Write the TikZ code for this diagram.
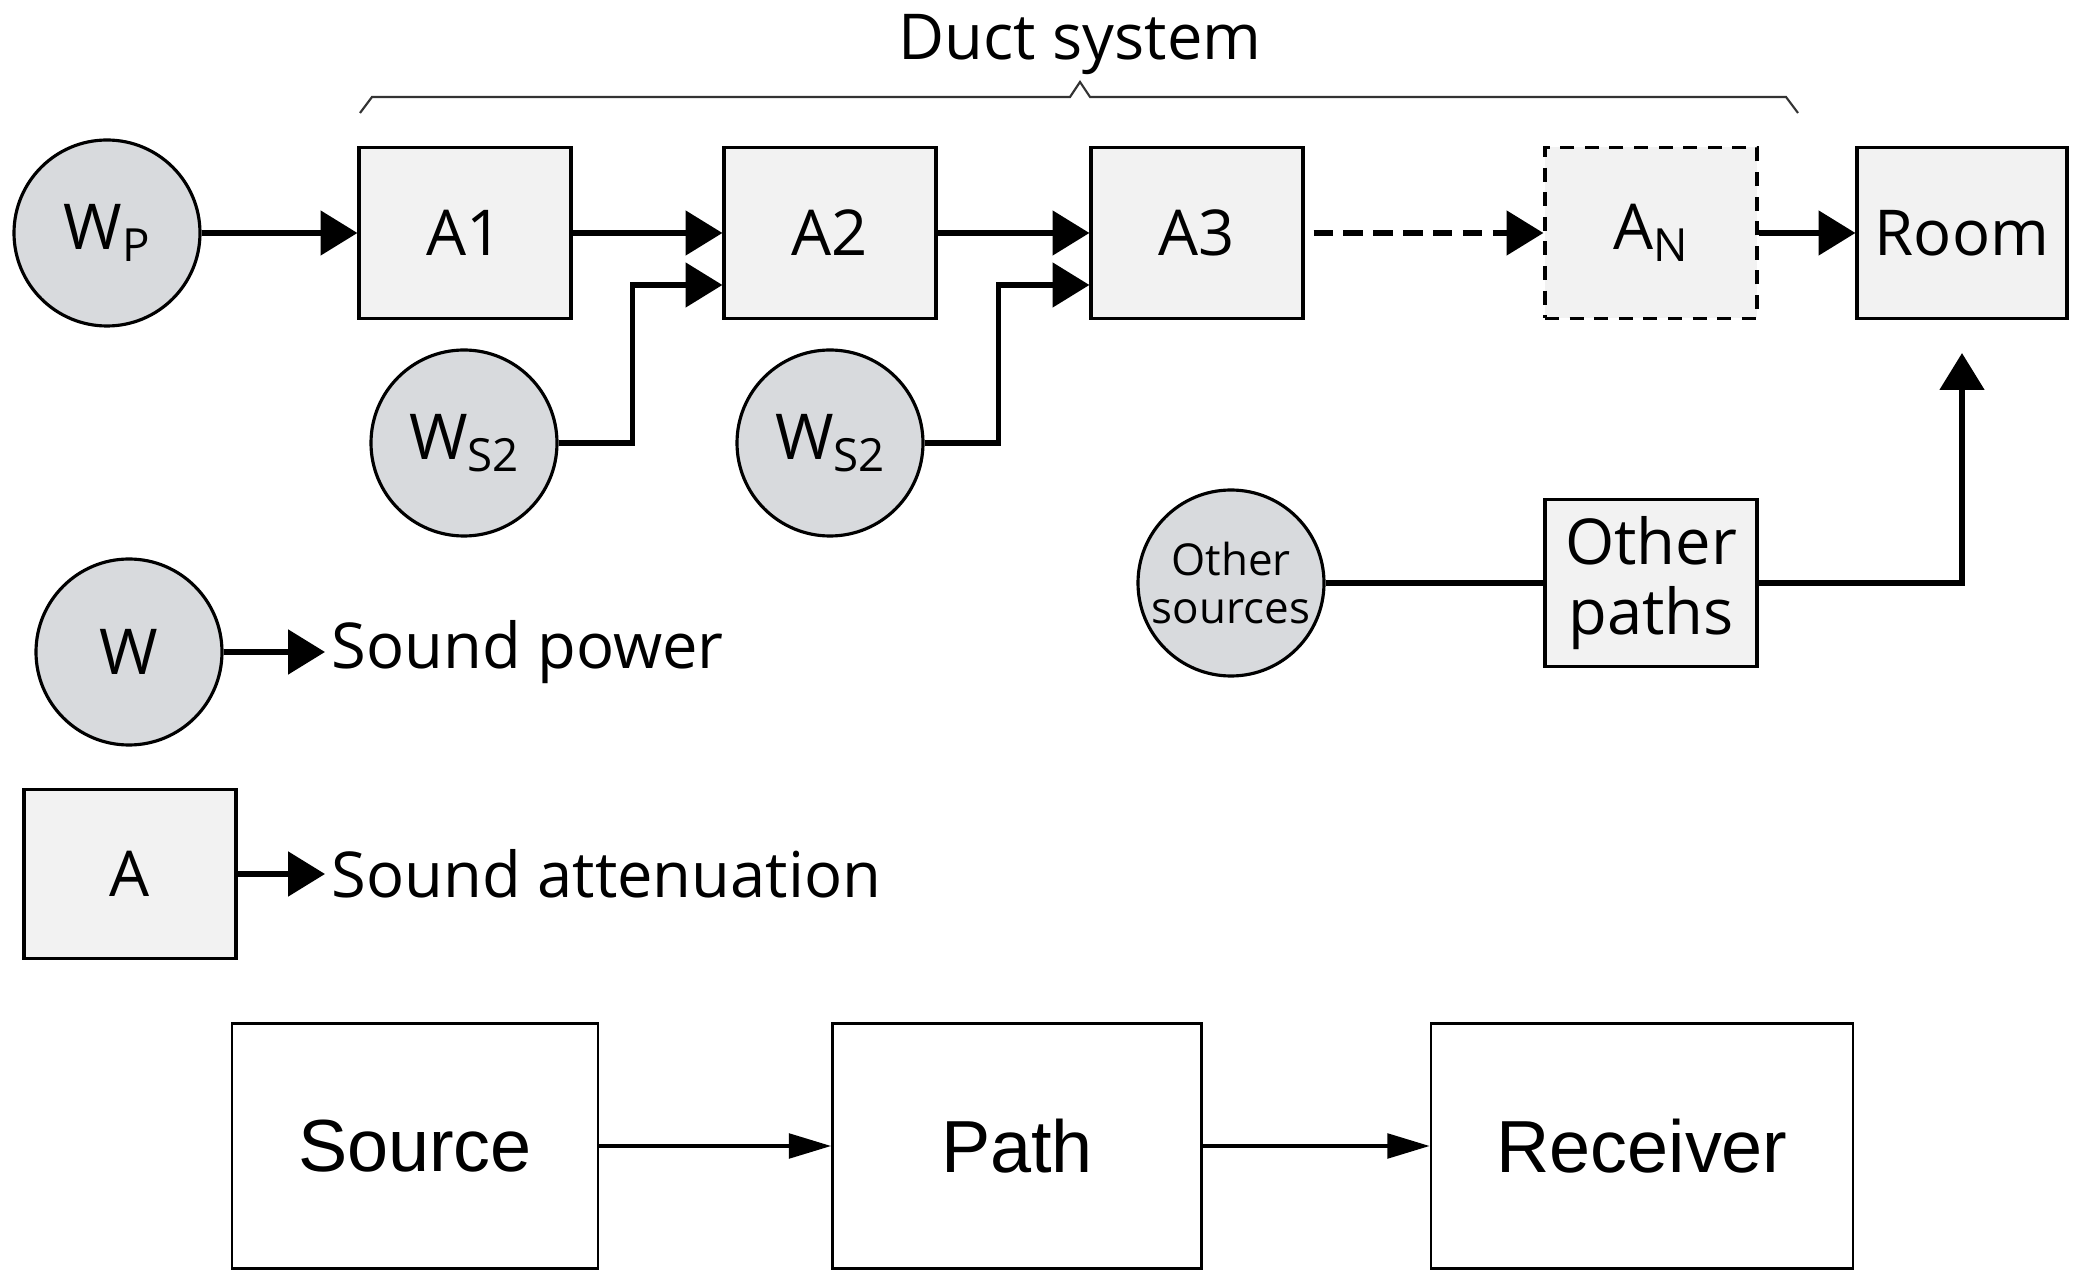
\documentclass[tikz,border=0pt]{standalone}
\usepackage{fontspec}
\setmainfont{Open Sans}
\newfontfamily\helvfont{Liberation Sans}
\usetikzlibrary{arrows.meta}

\definecolor{srcgray}{RGB}{216,218,221}
\definecolor{attgray}{RGB}{242,242,242}

\newcommand{\subtxt}[1]{\raisebox{-0.35ex}{\fontsize{13}{13}\selectfont #1}}

\tikzset{
  src/.style={circle, draw, fill=srcgray, minimum size=1.86cm, inner sep=0pt, line width=0.9pt,
    font=\fontsize{18}{20}\selectfont},
  att/.style={rectangle, draw, fill=attgray, minimum width=2.12cm, minimum height=1.71cm,
    inner sep=0pt, line width=0.9pt, font=\fontsize{18}{20}\selectfont},
  blk/.style={rectangle, draw, minimum height=2.45cm, inner sep=0pt, line width=0.8pt,
    font=\helvfont\fontsize{21}{24}\selectfont},
  flow/.style={-{Triangle[length=10.5pt,width=12.5pt]}, line width=1.5pt},
  thinflow/.style={-{Triangle[length=12pt,width=7pt]}, line width=1pt}
}

\begin{document}
\begin{tikzpicture}
\useasboundingbox (0,0) rectangle (20.78,-12.71);

% Duct system brace
\node[font=\fontsize{18}{20}\selectfont] (duct) at (10.80,-0.45) {Duct system};
\draw[line width=0.6pt, black!80] (3.60,-1.13) -- (3.72,-0.97) -- (10.70,-0.97) -- (10.80,-0.82)
  -- (10.90,-0.97) -- (17.86,-0.97) -- (17.98,-1.13);

% Duct elements
\node[src] (wp) at (1.07,-2.33) {W\subtxt{P}};
\node[att] (a1) at (4.65,-2.33) {A1};
\node[att] (a2) at (8.30,-2.33) {A2};
\node[att] (a3) at (11.97,-2.33) {A3};
\node[att, dash pattern=on 4pt off 3pt] (an) at (16.51,-2.33) {A\subtxt{N}};
\node[att, minimum width=2.10cm] (room) at (19.62,-2.33) {Room};

\node[src] (ws1) at (4.64,-4.43) {W\subtxt{S2}};
\node[src] (ws2) at (8.30,-4.43) {W\subtxt{S2}};

\draw[flow] (wp) -- (a1);
\draw[flow] (a1) -- (a2);
\draw[flow] (a2) -- (a3);
\draw[flow, dash pattern=on 5.5pt off 3pt, shorten <=0.09cm] (a3) -- (an);
\draw[flow] (an) -- (room);

\draw[flow] (ws1.east) -- ++(0.74,0) |- ([yshift=-0.52cm]a2.west);
\draw[flow] (ws2.east) -- ++(0.74,0) |- ([yshift=-0.52cm]a3.west);

% Other sources
\node[src, font=\fontsize{12.5}{13.5}\selectfont, align=center] (osrc) at (12.31,-5.83)
  {Other\\sources};
\node[att, minimum height=1.67cm, align=center] (opath) at (16.51,-5.83)
  {Other\\paths};
\draw[line width=1.5pt] (osrc) -- (opath);
\draw[flow, shorten >=0.33cm] (opath.east) -| (room.south);

% Legend
\node[src] (lw) at (1.29,-6.52) {W};
\node[anchor=west, font=\fontsize{18}{20}\selectfont, inner sep=0pt] (lwtxt) at (3.31,-6.52)
  {Sound power};
\draw[flow, shorten >=0.06cm] (lw) -- (lwtxt);

\node[att, minimum height=1.69cm] (la) at (1.30,-8.74) {A};
\node[anchor=west, font=\fontsize{18}{20}\selectfont, inner sep=0pt] (latxt) at (3.31,-8.74)
  {Sound attenuation};
\draw[flow, shorten >=0.06cm] (la) -- (latxt);

% Source - path - receiver
\node[blk, minimum width=3.66cm] (source) at (4.15,-11.46) {Source};
\node[blk, minimum width=3.69cm] (path) at (10.17,-11.46) {Path};
\node[blk, minimum width=4.22cm] (recv) at (16.42,-11.46) {Receiver};
\draw[thinflow] (source) -- (path);
\draw[thinflow] (path) -- (recv);

\end{tikzpicture}
\end{document}
